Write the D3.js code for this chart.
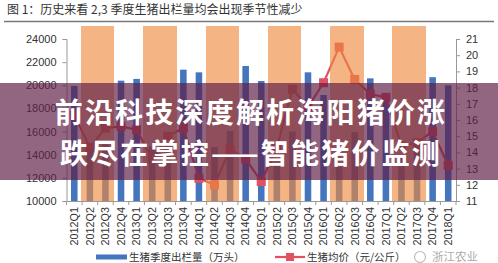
<!DOCTYPE html>
<html><head><meta charset="utf-8">
<script src="https://cdn.jsdelivr.net/npm/d3@7"></script>
<style>
html,body{margin:0;padding:0;background:#fff;}
svg{display:block;}
</style></head>
<body>
<svg id="c" width="498" height="263"></svg>
<script>
const categories = ["2012Q1","2012Q2","2012Q3","2012Q4","2013Q1","2013Q2","2013Q3","2013Q4",
  "2014Q1","2014Q2","2014Q3","2014Q4","2015Q1","2015Q2","2015Q3","2015Q4",
  "2016Q1","2016Q2","2016Q3","2016Q4","2017Q1","2017Q2","2017Q3","2017Q4","2018Q1"];
// 生猪季度出栏量（万头）
const slaughter = [19950,14300,14900,20400, 20550,14700,15000,21350,
  21120,14650,16050,21670, 20370,13300,16000,21120,
  19160,12950,15950,20600, 19200,13800,15300,20700, 20000];
// 生猪均价（元/公斤）
const price = [16.3,14.3,15.5,15.6, 15.4,13.6,15.0,15.5,
  12.4,12.0,14.2,13.6, 12.2,14.3,17.9,16.8,
  18.3,20.5,18.5,17.6, 17.4,14.4,14.6,15.3, 13.2];
// 2,3 季度高亮
const seasonHighlight = categories.map(c => (c.endsWith("Q2") || c.endsWith("Q3")) ? 25100 : null);
const leftTicks = [10000,12000,14000,16000,18000,20000,22000,24000];
const rightTicks = [11,12,13,14,15,16,17,18,19,20,21];
const titleText = "图 1：历史来看 2,3 季度生猪出栏量均会出现季节性减少";
const legendLabels = ["生猪季度出栏量（万头）","生猪均价（元/公斤）"];
const bannerLines = ["前沿科技深度解析海阳猪价涨","跌尽在掌控——智能猪价监测"];

const svg = d3.select("#c");
const X0 = 66.5, X1 = 456, YT = 39, YB = 201;
const x = d3.scaleBand().domain(categories).range([X0, X1]).padding(0);
const yL = d3.scaleLinear().domain([10000,24000]).range([YB, YT]);
const yR = d3.scaleLinear().domain([11,21]).range([YB, YT]);
const bw = x.bandwidth();

const blue = "#4475bd", orange = "#ee8a3e", red = "#e0525f";
const font = "'Liberation Sans', Arial, sans-serif";
const cjk = "'Noto Sans CJK SC', sans-serif";

// title
svg.append("text").attr("x", 7).attr("y", 14).attr("font-family", cjk).attr("font-size", 12)
  .attr("fill", "#333").text(titleText);
svg.append("line").attr("x1", 4).attr("x2", 494).attr("y1", 21.5).attr("y2", 21.5)
  .attr("stroke", "#777").attr("stroke-width", 1.5);

// blue bars
const barW = bw * 0.42;
svg.append("g").selectAll("rect").data(categories).join("rect")
  .attr("x", (d) => x(d) + (bw - barW) / 2)
  .attr("width", barW)
  .attr("y", (d, i) => yL(slaughter[i]))
  .attr("height", (d, i) => yL(10000) - yL(slaughter[i]))
  .attr("fill", blue);

// price line
const line = d3.line().x((d, i) => x(categories[i]) + bw / 2).y(d => yR(d));
svg.append("path").datum(price).attr("d", line).attr("fill", "none")
  .attr("stroke", red).attr("stroke-width", 2.2);
const ms = 9;
svg.append("g").selectAll("rect").data(price).join("rect")
  .attr("x", (d, i) => x(categories[i]) + bw / 2 - ms / 2)
  .attr("y", d => yR(d) - ms / 2)
  .attr("width", ms).attr("height", ms).attr("fill", red);

// orange seasonal columns (translucent, on top)
svg.append("g").selectAll("rect").data(categories.filter((c, i) => seasonHighlight[i] != null)).join("rect")
  .attr("x", d => d.endsWith("Q2") ? x(d) - 1.2 : x(d))
  .attr("width", bw + 1.2)
  .attr("y", d => yL(seasonHighlight[categories.indexOf(d)]))
  .attr("height", d => yL(10000) - yL(seasonHighlight[categories.indexOf(d)]))
  .attr("fill", orange).attr("fill-opacity", 0.64)
  .attr("shape-rendering", "crispEdges");

// axes
const axisColor = "#999";
const gl = svg.append("g").attr("transform", `translate(${X0},0)`)
  .call(d3.axisLeft(yL).tickValues(leftTicks).tickSize(4).tickPadding(6).tickFormat(d3.format("d")));
const gr = svg.append("g").attr("transform", `translate(${X1},0)`)
  .call(d3.axisRight(yR).tickValues(rightTicks).tickSize(4).tickPadding(6));
[gl, gr].forEach(g => {
  g.select(".domain").attr("stroke", axisColor);
  g.selectAll(".tick line").attr("stroke", axisColor);
  g.selectAll("text").attr("font-family", font).attr("font-size", 11).attr("fill", "#333");
});
const gx = svg.append("g").attr("transform", `translate(0,${YB})`)
  .call(d3.axisBottom(x).tickSize(0).tickPadding(0));
gx.select(".domain").attr("stroke", axisColor);
gx.selectAll(".tick text").attr("font-family", font).attr("font-size", 10.8).attr("fill", "#333")
  .attr("text-anchor", "end").attr("dy", "0.35em")
  .attr("transform", "translate(0,6) rotate(-90)");
// tick marks between categories
gx.append("g").selectAll("line").data(categories.concat(["end"])).join("line")
  .attr("x1", (d, i) => X0 + i * bw).attr("x2", (d, i) => X0 + i * bw)
  .attr("y1", 0).attr("y2", 4).attr("stroke", axisColor);

// legend
const lg = svg.append("g");
lg.append("rect").attr("x", 96).attr("y", 254.5).attr("width", 31).attr("height", 5).attr("fill", blue);
lg.append("text").attr("x", 129).attr("y", 260.5).attr("font-family", cjk).attr("font-size", 10.5)
  .attr("fill", "#333").text(legendLabels[0]);
lg.append("line").attr("x1", 275).attr("x2", 305).attr("y1", 257).attr("y2", 257)
  .attr("stroke", red).attr("stroke-width", 2.2);
lg.append("rect").attr("x", 286).attr("y", 253).attr("width", 8).attr("height", 8).attr("fill", red);
lg.append("text").attr("x", 307).attr("y", 260.5).attr("font-family", cjk).attr("font-size", 10.5)
  .attr("fill", "#333").text(legendLabels[1]);
// watermark
lg.append("circle").attr("cx", 420).attr("cy", 257).attr("r", 5.5).attr("fill", "none")
  .attr("stroke", "#bbb").attr("stroke-width", 1.2);
lg.append("text").attr("x", 432).attr("y", 260.5).attr("font-family", cjk).attr("font-size", 11.5)
  .attr("fill", "#aaa").text("浙江农业");

// banner overlay
svg.append("rect").attr("x", 0).attr("y", 83).attr("width", 498).attr("height", 97)
  .attr("fill", "rgb(95,30,70)").attr("fill-opacity", 0.68);
svg.append("g").selectAll("text").data(bannerLines).join("text")
  .attr("x", 251).attr("y", (d, i) => 123 + i * 41)
  .attr("text-anchor", "middle").attr("font-family", cjk).attr("font-weight", 700)
  .attr("font-size", 28).attr("letter-spacing", 2.2).attr("fill", "#fff")
  .text(d => d);
</script>
</body></html>
